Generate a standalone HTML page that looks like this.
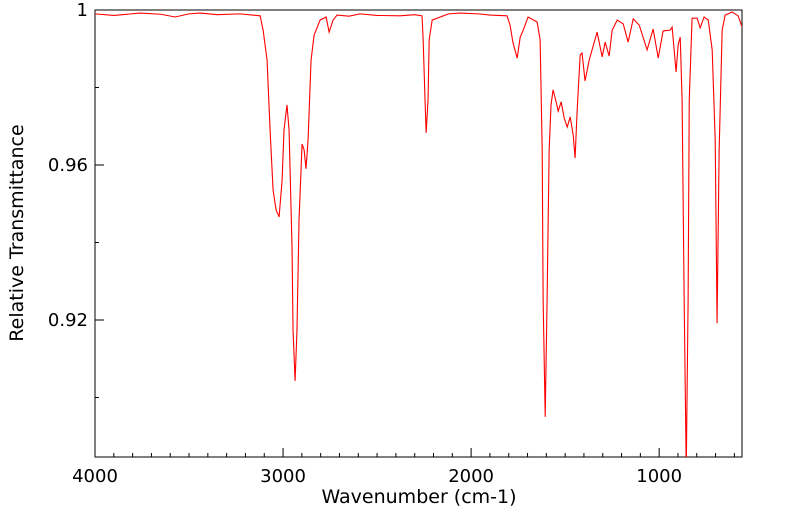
<!DOCTYPE html>
<html><head><meta charset="utf-8"><style>
html,body{margin:0;padding:0;background:#fff;}
svg{display:block;font-family:"DejaVu Sans","Liberation Sans",sans-serif;}
</style></head><body>
<svg id="chart" width="799" height="516">
<defs><clipPath id="clip"><rect x="95" y="10" width="647" height="447"/></clipPath></defs>
<rect x="95" y="10" width="647" height="447" fill="#fff" stroke="#000" stroke-width="1"/>
<g id="ticks"></g>
<path id="spectrum" fill="none" stroke="#ff0000" stroke-width="1.1" clip-path="url(#clip)"/>
<text x="419" y="503" font-size="19" text-anchor="middle">Wavenumber (cm-1)</text>
<text transform="translate(23,233) rotate(-90)" font-size="19" text-anchor="middle">Relative Transmittance</text>
</svg>
<script>
const wavenumbers=[4000,3900,3761,3650,3574,3500,3441,3350,3229,3122,3106,3085,3069,3053,3037,3021,3005,2995,2979,2968,2952,2947,2936,2926,2915,2899,2888,2878,2867,2851,2835,2803,2771,2755,2734,2713,2650,2590,2500,2378,2300,2261,2255,2245,2239,2229,2223,2207,2120,2059,1960,1899,1809,1793,1777,1755,1739,1723,1697,1649,1633,1622,1617,1606,1596,1585,1575,1564,1548,1537,1521,1505,1489,1473,1457,1447,1436,1420,1410,1394,1372,1330,1303,1287,1266,1250,1223,1191,1165,1138,1106,1064,1032,1005,979,941,931,910,899,888,878,867,856,846,840,825,798,782,761,739,718,702,692,681,665,649,612,580,559];
const transmittance=[0.9990,0.9986,0.9992,0.9989,0.9982,0.9990,0.9992,0.9988,0.9990,0.9985,0.9948,0.9871,0.9690,0.9535,0.9484,0.9466,0.9561,0.9690,0.9755,0.9690,0.9381,0.9174,0.9043,0.9174,0.9458,0.9654,0.9639,0.9590,0.9665,0.9871,0.9935,0.9974,0.9982,0.9943,0.9974,0.9987,0.9984,0.9990,0.9986,0.9985,0.9988,0.9985,0.9923,0.9768,0.9683,0.9768,0.9923,0.9974,0.9990,0.9992,0.9990,0.9987,0.9985,0.9961,0.9915,0.9876,0.9930,0.9948,0.9982,0.9969,0.9923,0.9639,0.9252,0.8950,0.9252,0.9639,0.9755,0.9794,0.9763,0.9739,0.9763,0.9721,0.9698,0.9724,0.9677,0.9618,0.9742,0.9884,0.9889,0.9817,0.9871,0.9943,0.9879,0.9917,0.9881,0.9948,0.9974,0.9964,0.9917,0.9977,0.9961,0.9897,0.9951,0.9876,0.9946,0.9948,0.9956,0.9840,0.9910,0.9930,0.9768,0.9252,0.8813,0.9252,0.9768,0.9979,0.9979,0.9954,0.9982,0.9974,0.9897,0.9665,0.9192,0.9639,0.9948,0.9987,0.9995,0.9985,0.9956];
const xTickLabels=["4000","3000","2000","1000"];
const yTickLabels=["1","0.96","0.92"];
const yMinorValues=[0.98,0.94,0.90];

const X0=95,X1=742,Y0=10,Y1=457;
const wnMax=4000,wnMin=559.5,tMax=1,tMin=0.88465;
function xs(w){return X0+(wnMax-w)/(wnMax-wnMin)*(X1-X0);}
function ys(t){return Y0+(tMax-t)/(tMax-tMin)*(Y1-Y0);}

let d="";
for(let i=0;i<wavenumbers.length;i++){d+=(i?"L":"M")+xs(wavenumbers[i]).toFixed(2)+","+ys(transmittance[i]).toFixed(2);}
document.getElementById('spectrum').setAttribute('d',d);

const NS="http://www.w3.org/2000/svg";
const g=document.getElementById('ticks');
function line(x1,y1,x2,y2,name){const l=document.createElementNS(NS,'line');
l.setAttribute('x1',x1);l.setAttribute('y1',y1);l.setAttribute('x2',x2);l.setAttribute('y2',y2);
l.setAttribute('stroke','#000');l.setAttribute('stroke-width','1');


g.appendChild(l);}
function text(x,y,s,anchor,name){const t=document.createElementNS(NS,'text');
t.setAttribute('x',x);t.setAttribute('y',y);t.setAttribute('font-size','18');t.setAttribute('text-anchor',anchor);t.textContent=s;


g.appendChild(t);}
for(let w=4000;w>wnMin;w-=100){const x=xs(w);const major=w%1000===0;
line(x,Y1,x,Y1-(major?9:4),major?'x-major-tick':'x-minor-tick');}
xTickLabels.forEach(s=>text(xs(parseFloat(s)),482,s,'middle','x-tick-label'));
yTickLabels.forEach(s=>{const y=ys(parseFloat(s));line(X0,y,X0+9,y,'y-major-tick');text(88,y+6,s,'end','y-tick-label');});
yMinorValues.forEach(v=>line(X0,ys(v),X0+4,ys(v),'y-minor-tick'));
</script>
</body></html>
